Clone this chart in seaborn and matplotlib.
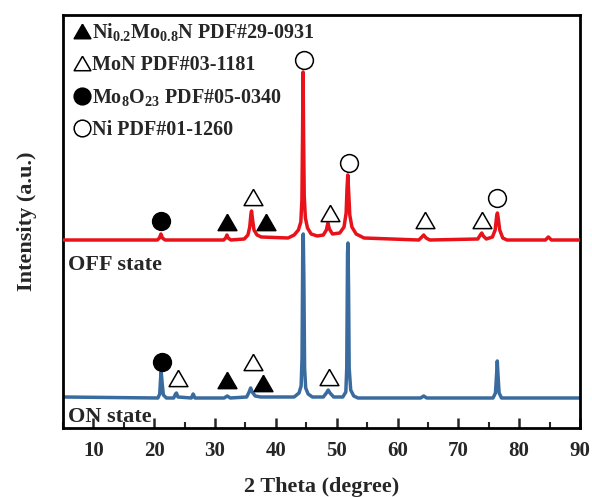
import matplotlib
matplotlib.use("Agg")
import matplotlib.pyplot as plt
from matplotlib.lines import Line2D
from matplotlib.ticker import MultipleLocator
import seaborn as sns
import pandas as pd

# ---------------- data ----------------
off_2theta = [5, 20.5, 20.85, 21.1, 21.35, 21.8,
              31.4, 31.75, 31.95, 32.15, 32.6,
              34.8, 35.4, 35.7, 35.9, 36.0, 36.15, 36.4, 36.9, 37.6,
              42.0, 43.0, 43.7, 44.1, 44.28, 44.38, 44.47, 44.56, 44.66, 44.85, 45.2, 45.8, 46.8,
              47.8, 48.3, 48.55, 48.8, 49.3,
              50.5, 51.2, 51.55, 51.7, 51.82, 51.95, 52.15, 52.5, 53.2, 54.5,
              63.5, 64.0, 64.3, 64.7, 65.3,
              73.2, 73.6, 73.85, 74.1, 74.6,
              75.6, 76.05, 76.3, 76.42, 76.55, 76.8, 77.3, 78.0,
              84.3, 84.8, 85.3, 90]
off_int = [188, 188, 190, 194, 190, 188,
           188, 190, 193, 190, 188,
           189, 193, 201, 214, 217, 209, 198, 193, 191,
           190, 193, 198, 206, 228, 290, 356, 290, 232, 210, 200, 194, 192,
           193, 198, 205, 199, 194,
           195, 201, 215, 240, 253, 238, 213, 201, 194, 190,
           188, 191, 193, 190, 188,
           189, 193, 195, 192, 189,
           191, 198, 212, 215, 210, 198, 190, 188,
           188, 191, 188, 188]

on_2theta = [5, 20.6, 20.9, 21.05, 21.15, 21.3, 21.5, 22.0,
             23.2, 23.5, 23.65, 23.9, 26.1, 26.4, 26.7,
             31.5, 32.0, 32.5,
             35.2, 35.6, 35.85, 36.1, 36.6, 37.5,
             43.0, 43.8, 44.15, 44.3, 44.42, 44.5, 44.6, 44.72, 44.9, 45.3, 46.0,
             47.8, 48.3, 48.6, 48.9, 49.5,
             51.0, 51.5, 51.65, 51.78, 51.85, 51.95, 52.05, 52.3, 52.8, 53.5,
             63.8, 64.3, 64.8,
             75.7, 76.1, 76.3, 76.4, 76.5, 76.7, 77.1, 90]
on_int = [31, 30, 34, 50, 56, 45, 33, 30,
          30, 34, 35, 31, 30, 34, 30,
          30, 32, 30,
          31, 36, 40, 36, 32, 31,
          31, 35, 42, 70, 180, 194, 150, 60, 40, 34, 31,
          31, 35, 38, 35, 31,
          31, 36, 60, 175, 185, 140, 60, 38, 32, 30,
          30, 32, 30,
          30, 35, 55, 67, 55, 35, 30, 30]

# phase marks: (2theta, height) per phase and state
off_ni02mo08n_x = [31.9, 38.3]
off_ni02mo08n_y = [206, 206]
off_mon_x = [36.3, 48.9, 64.5, 73.9]
off_mon_y = [231, 215, 208, 208]
off_mo8o23_x = [21.1]
off_mo8o23_y = [207]
off_ni_x = [44.6, 52.0, 76.4]
off_ni_y = [368, 265, 230]

on_ni02mo08n_x = [32.0, 37.9]
on_ni02mo08n_y = [48, 45]
on_mon_x = [23.9, 36.2, 48.8]
on_mon_y = [50, 66, 51]
on_mo8o23_x = [21.3]
on_mo8o23_y = [66]

legend_labels = [r"Ni$_{0.2}$Mo$_{0.8}$N PDF#29-0931",
                 r"MoN PDF#03-1181",
                 r"Mo$_{8}$O$_{23}$ PDF#05-0340",
                 r"Ni PDF#01-1260"]
state_labels = ["OFF state", "ON state"]
x_ticks = [10, 20, 30, 40, 50, 60, 70, 80, 90]

# ---------------- style ----------------
sns.set_theme(style="ticks")
plt.rcParams["font.family"] = ["Liberation Serif", "DejaVu Serif"]
plt.rcParams["font.weight"] = "bold"
plt.rcParams["mathtext.fontset"] = "custom"
plt.rcParams["mathtext.rm"] = "Liberation Serif:bold"
plt.rcParams["mathtext.bf"] = "Liberation Serif:bold"
plt.rcParams["mathtext.it"] = "Liberation Serif:bold"

RED = "#e8121a"
BLUE = "#3a6b9f"

fig = plt.figure(figsize=(5.92, 4.97), dpi=100)
ax = fig.add_axes([63 / 592, 1 - 428 / 497, (580 - 63) / 592, (428 - 15) / 497])

df_on = pd.DataFrame({"two_theta": on_2theta, "intensity": on_int})
df_off = pd.DataFrame({"two_theta": off_2theta, "intensity": off_int})
sns.lineplot(data=df_on, x="two_theta", y="intensity", ax=ax, color=BLUE,
             lw=2.5, estimator=None, sort=False, zorder=2)
sns.lineplot(data=df_off, x="two_theta", y="intensity", ax=ax, color=RED,
             lw=2.5, estimator=None, sort=False, zorder=3)

tri = [(0, 0.866), (-1, -0.866), (1, -0.866), (0, 0.866)]
ms_tri = 13.5
ms_circ = 12.8
mew = 1.1


def mark(xs, ys, marker, filled, ms):
    ax.plot(xs, ys, linestyle="none", marker=marker, markersize=ms,
            markerfacecolor="black" if filled else "white",
            markeredgecolor="black", markeredgewidth=mew, zorder=5)


mark(off_ni02mo08n_x, off_ni02mo08n_y, tri, True, ms_tri)
mark(off_mon_x, off_mon_y, tri, False, ms_tri)
mark(off_mo8o23_x, off_mo8o23_y, "o", True, ms_circ)
mark(off_ni_x, off_ni_y, "o", False, ms_circ)
mark(on_ni02mo08n_x, on_ni02mo08n_y, tri, True, ms_tri)
mark(on_mon_x, on_mon_y, tri, False, ms_tri)
mark(on_mo8o23_x, on_mo8o23_y, "o", True, ms_circ)

handles = [
    Line2D([], [], linestyle="none", marker=tri, markersize=12,
           markerfacecolor="black", markeredgecolor="black", markeredgewidth=mew),
    Line2D([], [], linestyle="none", marker=tri, markersize=12,
           markerfacecolor="white", markeredgecolor="black", markeredgewidth=mew),
    Line2D([], [], linestyle="none", marker="o", markersize=12,
           markerfacecolor="black", markeredgecolor="black", markeredgewidth=mew),
    Line2D([], [], linestyle="none", marker="o", markersize=12,
           markerfacecolor="white", markeredgecolor="black", markeredgewidth=mew),
]
leg = ax.legend(handles, legend_labels, loc="upper left", frameon=False,
                bbox_to_anchor=(9 / 517, 1 - 6 / 413),
                handlelength=1.0, handletextpad=0.0,
                borderaxespad=0.0, borderpad=0.0, labelspacing=0.6,
                prop={"family": "Liberation Serif", "weight": "bold", "size": 14.5})

ax.text(5.8, 158, state_labels[0], fontsize=16, fontweight="bold",
        ha="left", va="baseline")
ax.text(5.75, 6, state_labels[1], fontsize=16, fontweight="bold",
        ha="left", va="baseline")

ax.set_xlim(5, 90)
ax.set_ylim(0, 413)
ax.set_xticks(x_ticks)
ax.xaxis.set_minor_locator(MultipleLocator(5))
ax.set_yticks([])
ax.tick_params(axis="x", which="major", direction="in", length=7, width=1.8,
               labelsize=15, pad=9, top=False, bottom=True)
ax.tick_params(axis="x", which="minor", direction="in", length=4, width=1.5,
               top=False, bottom=True)
for lab in ax.get_xticklabels():
    lab.set_fontweight("bold")
for s in ax.spines.values():
    s.set_linewidth(2.0)
    s.set_visible(True)
    s.set_color("black")

ax.set_xlabel("2 Theta (degree)", fontsize=16, fontweight="bold", labelpad=12)
ax.set_ylabel("Intensity (a.u.)", fontsize=16, fontweight="bold", labelpad=19)

fig.savefig("out.png", dpi=100)
